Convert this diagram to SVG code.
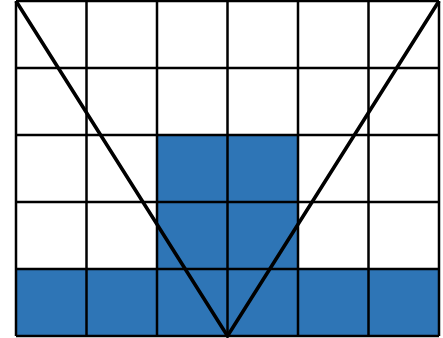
<svg xmlns="http://www.w3.org/2000/svg" width="443" height="338" viewBox="0 0 443 338">
<style>
.cell{fill:#2E75B6;}
.grid{stroke:#000;stroke-width:2.5;fill:none;}
.v{stroke:#000;stroke-width:3.6;fill:none;stroke-linejoin:miter;}
</style>
<rect x="0" y="0" width="443" height="338" fill="#fff"/>
<g id="fill">
<rect class="cell" x="157" y="135" width="141" height="134"/>
<rect class="cell" x="16" y="269" width="423" height="67"/>
</g>
<g id="grid">
<path class="grid" d="M16 1H439M16 68H439M16 135H439M16 202H439M16 269H439M16 336H439M16 1V336M86.5 1V336M157 1V336M227.5 1V336M298 1V336M368.5 1V336M439 1V336"/>
</g>
<g id="connectors">
<path class="v" d="M16 1L227.5 336L439 1"/>
</g>
</svg>
